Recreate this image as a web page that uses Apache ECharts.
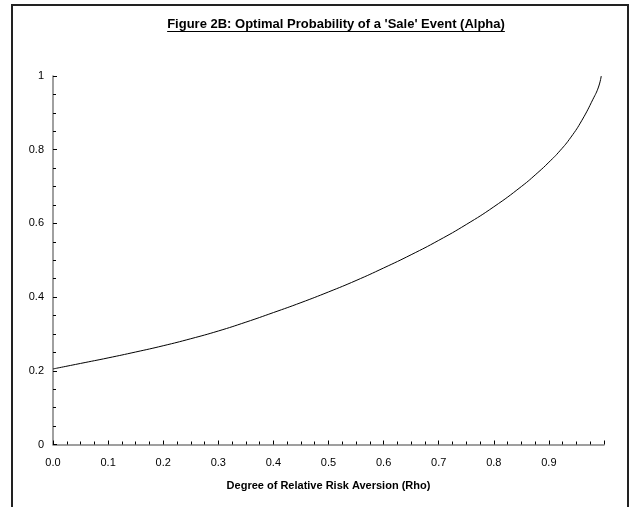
<!DOCTYPE html>
<html>
<head>
<meta charset="utf-8">
<script src="https://cdn.jsdelivr.net/npm/echarts@6/dist/echarts.min.js"></script>
<style>
html,body{margin:0;padding:0;background:#fff;}
#chart{width:636px;height:507px;}
</style>
</head>
<body>
<div id="chart"></div>
<script>
var titleText = "Figure 2B: Optimal Probability of a 'Sale' Event (Alpha)";
var xAxisName = "Degree of Relative Risk Aversion (Rho)";
var rho   = [0.00, 0.05, 0.10, 0.15, 0.20, 0.25, 0.30, 0.35, 0.40, 0.45, 0.50, 0.55, 0.60, 0.65, 0.70, 0.75, 0.80, 0.85, 0.88, 0.90, 0.92, 0.94, 0.96, 0.98, 0.99, 0.995];
var alpha = [0.205, 0.220, 0.235, 0.251, 0.268, 0.287, 0.308, 0.332, 0.358, 0.385, 0.414, 0.445, 0.479, 0.515, 0.554, 0.597, 0.645, 0.700, 0.738, 0.766, 0.797, 0.834, 0.880, 0.937, 0.970, 1.000];
var xTickLabels = ["0.0","0.1","0.2","0.3","0.4","0.5","0.6","0.7","0.8","0.9"];
var yTickLabels = ["0","0.2","0.4","0.6","0.8","1"];

var chart = echarts.init(document.getElementById('chart'), null, {renderer:'canvas'});
var data = rho.map(function(r,i){return [r, alpha[i]];});

var titleFont = 'bold 13px "Liberation Sans", Arial, sans-serif';
var cv = document.createElement('canvas').getContext('2d');
cv.font = titleFont;
var tw = cv.measureText(titleText).width;
var tcx = 336, tcy = 24;

chart.setOption({
  animation:false,
  backgroundColor:'#fff',
  graphic:[
    {type:'rect', shape:{x:12, y:5, width:616, height:520}, style:{fill:'none', stroke:'#222', lineWidth:2}, silent:true},
    {type:'text', x:tcx, y:tcy, style:{text:titleText, font:titleFont, fill:'#000', textAlign:'center', textVerticalAlign:'middle'}, silent:true},
    {type:'line', shape:{x1:tcx-tw/2, y1:tcy+7.5, x2:tcx+tw/2, y2:tcy+7.5}, style:{stroke:'#000', lineWidth:1}, silent:true}
  ],
  grid:{left:53, right:32, top:76, bottom:62.5, containLabel:false},
  xAxis:{
    type:'value', min:0, max:1, interval:0.1,
    name:xAxisName, nameLocation:'middle', nameGap:36,
    nameTextStyle:{fontFamily:'"Liberation Sans", Arial, sans-serif', fontSize:11, fontWeight:'bold', color:'#000'},
    axisLine:{show:true, onZero:false, lineStyle:{color:'#808080', width:1.5}},
    axisTick:{show:true, inside:true, length:4, lineStyle:{color:'#000', width:1}},
    minorTick:{show:true, splitNumber:4, length:3, lineStyle:{color:'#000', width:1}},
    splitLine:{show:false},
    axisLabel:{margin:13, fontFamily:'"Liberation Sans", Arial, sans-serif', fontSize:11, color:'#000',
      formatter:function(v){ var i=Math.round(v*10); return (Math.abs(v*10-i)<1e-6 && i<xTickLabels.length)? xTickLabels[i] : ''; }}
  },
  yAxis:{
    type:'value', min:0, max:1, interval:0.2,
    axisLine:{show:true, lineStyle:{color:'#808080', width:1.5}},
    axisTick:{show:true, inside:true, length:4, lineStyle:{color:'#000', width:1}},
    minorTick:{show:true, splitNumber:4, length:3, lineStyle:{color:'#000', width:1}},
    splitLine:{show:false},
    axisLabel:{margin:9, fontFamily:'"Liberation Sans", Arial, sans-serif', fontSize:11, color:'#000',
      formatter:function(v){ var i=Math.round(v*5); return yTickLabels[i]; }}
  },
  series:[{
    type:'line', data:data, smooth:0.5, showSymbol:false, symbol:'none',
    lineStyle:{color:'#000', width:1}
  }]
});
</script>
</body>
</html>
